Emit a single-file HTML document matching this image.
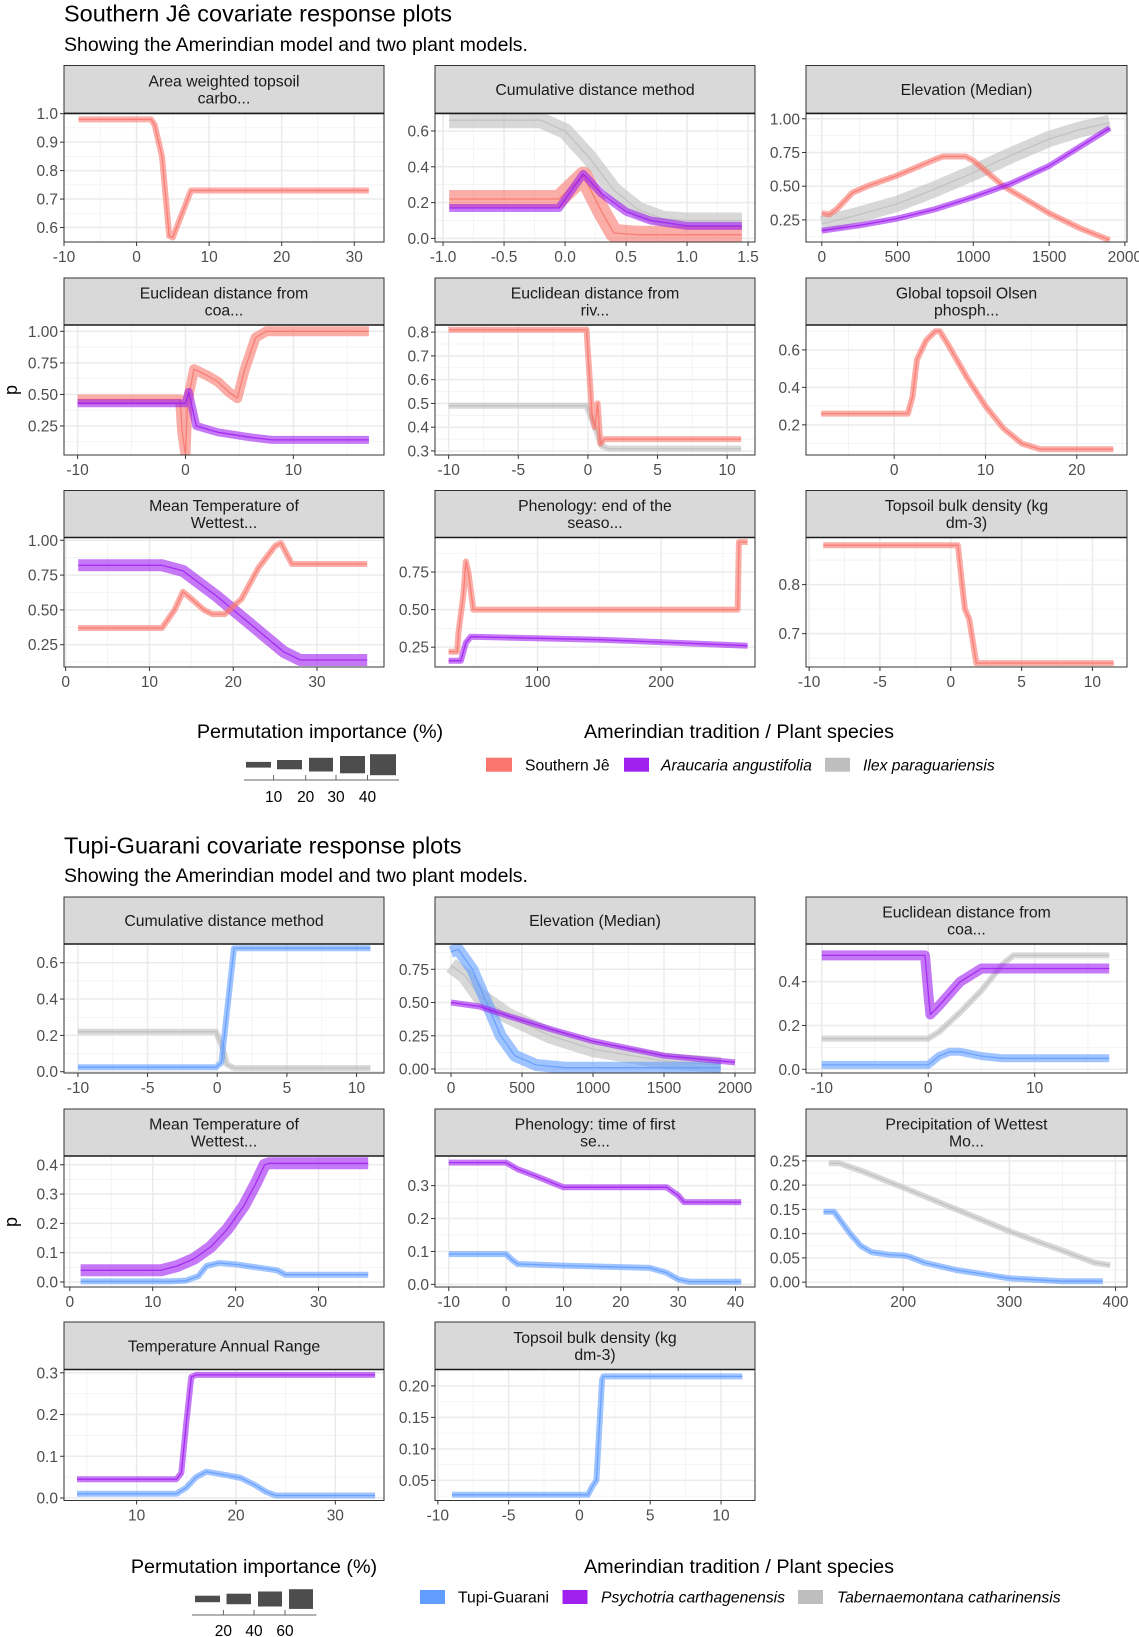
<!DOCTYPE html>
<html><head><meta charset="utf-8">
<style>
html,body{margin:0;padding:0;background:#fff;}
svg{display:block;font-family:"Liberation Sans",sans-serif;}
</style></head>
<body>
<svg id="fig" width="1139" height="1637" viewBox="0 0 1139 1637" xmlns="http://www.w3.org/2000/svg">
<text x="64" y="21.5" font-size="23.5" fill="#000">Southern Jê covariate response plots</text>
<text x="64" y="51" font-size="19.5" fill="#000">Showing the Amerindian model and two plant models.</text>
<text x="64" y="853.5" font-size="23.5" fill="#000">Tupi-Guarani covariate response plots</text>
<text x="64" y="882" font-size="19.5" fill="#000">Showing the Amerindian model and two plant models.</text>
<text x="0" y="0" font-size="18" transform="translate(17,390) rotate(-90)" text-anchor="middle">p</text>
<text x="0" y="0" font-size="18" transform="translate(17,1222) rotate(-90)" text-anchor="middle">p</text>

<g>
<text x="320" y="738" font-size="19.8" text-anchor="middle">Permutation importance (%)</text>
<rect x="246" y="761.9" width="25" height="5.7" fill="#4d4d4d"/>
<rect x="277" y="760" width="25" height="9.3" fill="#4d4d4d"/>
<rect x="309" y="757.8" width="24" height="13.7" fill="#4d4d4d"/>
<rect x="340" y="756" width="25" height="17.3" fill="#4d4d4d"/>
<rect x="370" y="754.2" width="26" height="21" fill="#4d4d4d"/>
<line x1="244" y1="780" x2="399" y2="780" stroke="#666" stroke-width="1"/>
<line x1="273.6" y1="775" x2="273.6" y2="780" stroke="#666"/><line x1="305.7" y1="775" x2="305.7" y2="780" stroke="#666"/><line x1="336" y1="775" x2="336" y2="780" stroke="#666"/><line x1="367.5" y1="775" x2="367.5" y2="780" stroke="#666"/>
<g font-size="15.5" text-anchor="middle" fill="#000"><text x="273.6" y="802">10</text><text x="305.7" y="802">20</text><text x="336" y="802">30</text><text x="367.5" y="802">40</text></g>
</g>
<g>
<text x="739" y="738" font-size="19.8" text-anchor="middle">Amerindian tradition / Plant species</text>
<rect x="486" y="757.7" width="26" height="14" fill="#F8766D"/>
<text x="525" y="770.5" font-size="15.7">Southern Jê</text>
<rect x="624" y="757.7" width="25" height="14" fill="#A020F0"/>
<text x="661" y="770.5" font-size="15.7" font-style="italic">Araucaria angustifolia</text>
<rect x="825" y="757.7" width="25" height="14" fill="#BEBEBE"/>
<text x="863" y="770.5" font-size="15.7" font-style="italic">Ilex paraguariensis</text>
</g>

<g>
<text x="254" y="1573" font-size="19.8" text-anchor="middle">Permutation importance (%)</text>
<rect x="195" y="1595.7" width="25" height="6.5" fill="#4d4d4d"/>
<rect x="226.5" y="1593.7" width="24.5" height="10.5" fill="#4d4d4d"/>
<rect x="258" y="1591.5" width="24" height="15" fill="#4d4d4d"/>
<rect x="289" y="1589.2" width="24" height="19.7" fill="#4d4d4d"/>
<line x1="192" y1="1615" x2="316.5" y2="1615" stroke="#666"/>
<line x1="223.4" y1="1610" x2="223.4" y2="1615" stroke="#666"/><line x1="254" y1="1610" x2="254" y2="1615" stroke="#666"/><line x1="285" y1="1610" x2="285" y2="1615" stroke="#666"/>
<g font-size="15.5" text-anchor="middle"><text x="223.4" y="1636">20</text><text x="254" y="1636">40</text><text x="285" y="1636">60</text></g>
</g>
<g>
<text x="739" y="1573" font-size="19.8" text-anchor="middle">Amerindian tradition / Plant species</text>
<rect x="420" y="1590" width="25" height="14" fill="#619CFF"/>
<text x="458" y="1602.5" font-size="15.7">Tupi-Guarani</text>
<rect x="562.5" y="1590" width="25" height="14" fill="#A020F0"/>
<text x="601" y="1602.5" font-size="15.7" font-style="italic">Psychotria carthagenensis</text>
<rect x="798" y="1590" width="25" height="14" fill="#BEBEBE"/>
<text x="837" y="1602.5" font-size="15.7" font-style="italic">Tabernaemontana catharinensis</text>
</g>
</svg>
<script>
// ---- data arrays ----
const A1_xt=[-10,0,10,20,30]; const A1_yt=[0.6,0.7,0.8,0.9,1.0]; const A1_yl=["0.6","0.7","0.8","0.9","1.0"];
const A1_red_x=[-8,2,2.5,3.5,4.5,5,7.5,32]; const A1_red_y=[0.98,0.98,0.96,0.85,0.57,0.565,0.73,0.73];

const A2_xt=[-1,-0.5,0,0.5,1,1.5]; const A2_xl=["-1.0","-0.5","0.0","0.5","1.0","1.5"]; const A2_yt=[0,0.2,0.4,0.6]; const A2_yl=["0.0","0.2","0.4","0.6"];
const A2_grey_x=[-0.95,-0.2,0,0.2,0.4,0.6,0.8,1.0,1.45]; const A2_grey_y=[0.66,0.66,0.6,0.45,0.27,0.16,0.11,0.1,0.1];
const A2_red_x=[-0.95,-0.05,0.15,0.3,0.4,0.6,1.45]; const A2_red_y=[0.22,0.22,0.35,0.15,0.03,0.02,0.02];
const A2_purple_x=[-0.95,-0.05,0.15,0.3,0.5,0.7,1.0,1.45]; const A2_purple_y=[0.17,0.17,0.36,0.25,0.15,0.1,0.07,0.07];

const A3_xt=[0,500,1000,1500,2000]; const A3_yt=[0.25,0.5,0.75,1.0]; const A3_yl=["0.25","0.50","0.75","1.00"];
const A3_grey_x=[0,250,500,750,1000,1250,1500,1700,1900]; const A3_grey_y=[0.22,0.29,0.37,0.48,0.6,0.73,0.85,0.92,0.97];
const A3_red_x=[0,50,100,200,300,500,750,800,950,1000,1200,1500,1700,1900]; const A3_red_y=[0.3,0.29,0.33,0.45,0.5,0.58,0.7,0.72,0.72,0.69,0.5,0.3,0.19,0.1];
const A3_purple_x=[0,250,500,750,1000,1250,1500,1700,1900]; const A3_purple_y=[0.17,0.21,0.26,0.33,0.42,0.52,0.65,0.79,0.93];

const B1_xt=[-10,0,10]; const B1_yt=[0.25,0.5,0.75,1.0]; const B1_yl=["0.25","0.50","0.75","1.00"];
const B1_red_x=[-10,-0.5,-0.3,0,0.2,0.8,2,3,4,4.8,5.5,6.5,7.5,17]; const B1_red_y=[0.46,0.46,0.2,0.02,0.45,0.7,0.65,0.6,0.52,0.47,0.7,0.95,1.0,1.0];
const B1_purple_x=[-10,0,0.3,1,3,6,8,17]; const B1_purple_y=[0.43,0.43,0.52,0.25,0.2,0.16,0.14,0.14];

const B2_xt=[-10,-5,0,5,10]; const B2_yt=[0.3,0.4,0.5,0.6,0.7,0.8]; const B2_yl=["0.3","0.4","0.5","0.6","0.7","0.8"];
const B2_grey_x=[-10,-0.1,0.5,1,1.5,11]; const B2_grey_y=[0.49,0.49,0.4,0.32,0.31,0.31];
const B2_red_x=[-10,-0.1,0.3,0.5,0.7,0.9,1.2,11]; const B2_red_y=[0.81,0.81,0.45,0.4,0.5,0.33,0.35,0.35];

const B3_xt=[0,10,20]; const B3_yt=[0.2,0.4,0.6]; const B3_yl=["0.2","0.4","0.6"];
const B3_red_x=[-8,1.5,2,2.5,3.5,4.5,5,6,8,10,12,14,16,24]; const B3_red_y=[0.26,0.26,0.35,0.55,0.65,0.7,0.7,0.62,0.45,0.3,0.18,0.1,0.07,0.07];

const C1_xt=[0,10,20,30]; const C1_yt=[0.25,0.5,0.75,1.0]; const C1_yl=["0.25","0.50","0.75","1.00"];
const C1_red_x=[1.5,11.5,13,14,15,16.5,17.5,19,21,23,25,25.7,27,36]; const C1_red_y=[0.37,0.37,0.5,0.63,0.58,0.5,0.47,0.47,0.58,0.8,0.96,0.98,0.83,0.83];
const C1_purple_x=[1.5,11.5,14,18,22,26,28,36]; const C1_purple_y=[0.82,0.82,0.78,0.6,0.4,0.2,0.14,0.14];

const C2_xt=[100,200]; const C2_yt=[0.25,0.5,0.75]; const C2_yl=["0.25","0.50","0.75"];
const C2_red_x=[28,35,36,40,42,44,48,262,263,270]; const C2_red_y=[0.22,0.22,0.35,0.6,0.82,0.75,0.5,0.5,0.95,0.95];
const C2_purple_x=[28,38,42,46,150,270]; const C2_purple_y=[0.16,0.16,0.28,0.32,0.3,0.26];

const C3_xt=[-10,-5,0,5,10]; const C3_yt=[0.7,0.8]; const C3_yl=["0.7","0.8"];
const C3_red_x=[-9,0.5,0.8,1,1.3,1.8,11.5]; const C3_red_y=[0.88,0.88,0.8,0.75,0.73,0.64,0.64];

const D1_xt=[-10,-5,0,5,10]; const D1_yt=[0,0.2,0.4,0.6]; const D1_yl=["0.0","0.2","0.4","0.6"];
const D1_grey_x=[-10,-0.1,0.3,0.7,1.2,11]; const D1_grey_y=[0.22,0.22,0.15,0.04,0.02,0.02];
const D1_blue_x=[-10,-0.1,0.3,0.8,1.2,11]; const D1_blue_y=[0.025,0.025,0.05,0.4,0.68,0.68];

const D2_xt=[0,500,1000,1500,2000]; const D2_yt=[0,0.25,0.5,0.75]; const D2_yl=["0.00","0.25","0.50","0.75"];
const D2_grey_x=[0,100,200,400,700,1000,1500,1900]; const D2_grey_y=[0.78,0.7,0.55,0.4,0.25,0.15,0.06,0.03];
const D2_blue_x=[0,50,150,250,350,450,600,800,1900]; const D2_blue_y=[0.88,0.9,0.75,0.5,0.25,0.1,0.03,0.01,0.01];
const D2_purple_x=[0,200,400,700,1000,1500,2000]; const D2_purple_y=[0.5,0.47,0.4,0.3,0.21,0.1,0.05];

const D3_xt=[-10,0,10]; const D3_yt=[0,0.2,0.4]; const D3_yl=["0.0","0.2","0.4"];
const D3_grey_x=[-10,0,1,3,5,7,8,17]; const D3_grey_y=[0.14,0.14,0.17,0.26,0.36,0.48,0.52,0.52];
const D3_blue_x=[-10,0,1,2,3,5,7,17]; const D3_blue_y=[0.02,0.02,0.06,0.08,0.08,0.06,0.05,0.05];
const D3_purple_x=[-10,-0.3,0,0.2,1,3,5,17]; const D3_purple_y=[0.52,0.52,0.35,0.25,0.29,0.4,0.46,0.46];

const E1_xt=[0,10,20,30]; const E1_yt=[0,0.1,0.2,0.3,0.4]; const E1_yl=["0.0","0.1","0.2","0.3","0.4"];
const E1_blue_x=[1.3,12,14,15.5,16.5,18,20,25,26,36]; const E1_blue_y=[0.002,0.002,0.005,0.02,0.055,0.065,0.06,0.04,0.025,0.025];
const E1_purple_x=[1.3,11,13,15,17,19,21,22.5,23.5,24,36]; const E1_purple_y=[0.04,0.04,0.055,0.08,0.12,0.18,0.26,0.34,0.4,0.405,0.405];

const E2_xt=[-10,0,10,20,30,40]; const E2_yt=[0,0.1,0.2,0.3]; const E2_yl=["0.0","0.1","0.2","0.3"];
const E2_blue_x=[-10,0,1,2,10,25,28,30,32,41]; const E2_blue_y=[0.092,0.092,0.075,0.062,0.057,0.05,0.035,0.015,0.008,0.008];
const E2_purple_x=[-10,0,2,5,10,28,30,31,41]; const E2_purple_y=[0.37,0.37,0.35,0.33,0.295,0.295,0.27,0.25,0.25];

const E3_xt=[200,300,400]; const E3_yt=[0,0.05,0.1,0.15,0.2,0.25]; const E3_yl=["0.00","0.05","0.10","0.15","0.20","0.25"];
const E3_grey_x=[130,140,160,200,250,300,350,380,395]; const E3_grey_y=[0.245,0.245,0.23,0.195,0.15,0.105,0.065,0.04,0.035];
const E3_blue_x=[125,135,140,150,160,170,185,200,205,220,250,300,350,388]; const E3_blue_y=[0.145,0.145,0.13,0.1,0.075,0.062,0.057,0.055,0.053,0.04,0.025,0.008,0.002,0.002];

const F1_xt=[10,20,30]; const F1_yt=[0,0.1,0.2,0.3]; const F1_yl=["0.0","0.1","0.2","0.3"];
const F1_blue_x=[4,14,15,16,17,19,20.5,22,23,24,34]; const F1_blue_y=[0.01,0.01,0.025,0.05,0.063,0.055,0.048,0.03,0.015,0.006,0.006];
const F1_purple_x=[4,14,14.5,15,15.5,16,34]; const F1_purple_y=[0.045,0.045,0.06,0.18,0.29,0.295,0.295];

const F2_xt=[-10,-5,0,5,10]; const F2_yt=[0.05,0.1,0.15,0.2]; const F2_yl=["0.05","0.10","0.15","0.20"];
const F2_blue_x=[-9,0.6,0.9,1.2,1.4,1.6,1.7,11.5]; const F2_blue_y=[0.027,0.027,0.04,0.05,0.13,0.21,0.215,0.215];

// ---- layout ----
const RED="#F8766D",PUR="#A020F0",GRY="#BEBEBE",BLU="#619CFF";
const COLS=[[64,384],[435,755],[806,1127]];
const ROWS=[[65.5,113.4,242],[278,325,455],[490.5,537.5,667],[897,944,1073],[1109,1156,1287],[1322,1369.5,1500.5]];
const panels=[
 {id:"a1",t:["Area weighted topsoil","carbo..."],c:0,r:0,xd:[-10,34.1],yd:[0.549,1.001],xt:A1_xt,yt:A1_yt,yl:A1_yl,s:[[RED,A1_red_x,A1_red_y,3]]},
 {id:"a2",t:["Cumulative distance method"],c:1,r:0,xd:[-1.066,1.557],yd:[-0.02,0.698],xt:A2_xt,xl:A2_xl,yt:A2_yt,yl:A2_yl,s:[[GRY,A2_grey_x,A2_grey_y,8],[RED,A2_red_x,A2_red_y,9],[PUR,A2_purple_x,A2_purple_y,4]]},
 {id:"a3",t:["Elevation (Median)"],c:2,r:0,xd:[-104,2014],yd:[0.086,1.04],xt:A3_xt,yt:A3_yt,yl:A3_yl,s:[[GRY,A3_grey_x,A3_grey_y,8],[RED,A3_red_x,A3_red_y,3],[PUR,A3_purple_x,A3_purple_y,3]]},
 {id:"b1",t:["Euclidean distance from","coa..."],c:0,r:1,xd:[-11.26,18.4],yd:[0.02,1.05],xt:B1_xt,yt:B1_yt,yl:B1_yl,s:[[RED,B1_red_x,B1_red_y,5],[PUR,B1_purple_x,B1_purple_y,4]]},
 {id:"b2",t:["Euclidean distance from","riv..."],c:1,r:1,xd:[-10.98,12.0],yd:[0.283,0.83],xt:B2_xt,yt:B2_yt,yl:B2_yl,s:[[GRY,B2_grey_x,B2_grey_y,3],[RED,B2_red_x,B2_red_y,3]]},
 {id:"b3",t:["Global topsoil Olsen","phosph..."],c:2,r:1,xd:[-9.66,25.5],yd:[0.039,0.733],xt:B3_xt,yt:B3_yt,yl:B3_yl,s:[[RED,B3_red_x,B3_red_y,3]]},
 {id:"c1",t:["Mean Temperature of","Wettest..."],c:0,r:2,xd:[-0.2,38],yd:[0.09,1.02],xt:C1_xt,yt:C1_yt,yl:C1_yl,s:[[PUR,C1_purple_x,C1_purple_y,6],[RED,C1_red_x,C1_red_y,3]]},
 {id:"c2",t:["Phenology: end of the","seaso..."],c:1,r:2,xd:[17,276],yd:[0.118,0.98],xt:C2_xt,yt:C2_yt,yl:C2_yl,s:[[RED,C2_red_x,C2_red_y,3],[PUR,C2_purple_x,C2_purple_y,3]]},
 {id:"c3",t:["Topsoil bulk density (kg","dm-3)"],c:2,r:2,xd:[-10.22,12.44],yd:[0.632,0.896],xt:C3_xt,yt:C3_yt,yl:C3_yl,s:[[RED,C3_red_x,C3_red_y,3]]},
 {id:"d1",t:["Cumulative distance method"],c:0,r:3,xd:[-11,11.97],yd:[-0.007,0.703],xt:D1_xt,yt:D1_yt,yl:D1_yl,s:[[GRY,D1_grey_x,D1_grey_y,3],[BLU,D1_blue_x,D1_blue_y,3]]},
 {id:"d2",t:["Elevation (Median)"],c:1,r:3,xd:[-113,2141],yd:[-0.03,0.94],xt:D2_xt,yt:D2_yt,yl:D2_yl,s:[[GRY,D2_grey_x,D2_grey_y,8],[BLU,D2_blue_x,D2_blue_y,6],[PUR,D2_purple_x,D2_purple_y,3]]},
 {id:"d3",t:["Euclidean distance from","coa..."],c:2,r:3,xd:[-11.48,18.67],yd:[-0.017,0.572],xt:D3_xt,yt:D3_yt,yl:D3_yl,s:[[GRY,D3_grey_x,D3_grey_y,3],[BLU,D3_blue_x,D3_blue_y,4],[PUR,D3_purple_x,D3_purple_y,5]]},
 {id:"e1",t:["Mean Temperature of","Wettest..."],c:0,r:4,xd:[-0.7,37.9],yd:[-0.017,0.43],xt:E1_xt,yt:E1_yt,yl:E1_yl,s:[[BLU,E1_blue_x,E1_blue_y,3],[PUR,E1_purple_x,E1_purple_y,6]]},
 {id:"e2",t:["Phenology: time of first","se..."],c:1,r:4,xd:[-12.4,43.4],yd:[-0.008,0.39],xt:E2_xt,yt:E2_yt,yl:E2_yl,s:[[BLU,E2_blue_x,E2_blue_y,3],[PUR,E2_purple_x,E2_purple_y,3]]},
 {id:"e3",t:["Precipitation of Wettest","Mo..."],c:2,r:4,xd:[108.5,410.8],yd:[-0.01,0.26],xt:E3_xt,yt:E3_yt,yl:E3_yl,s:[[GRY,E3_grey_x,E3_grey_y,3],[BLU,E3_blue_x,E3_blue_y,3]]},
 {id:"f1",t:["Temperature Annual Range"],c:0,r:5,xd:[2.69,34.9],yd:[-0.006,0.308],xt:F1_xt,yt:F1_yt,yl:F1_yl,s:[[BLU,F1_blue_x,F1_blue_y,3],[PUR,F1_purple_x,F1_purple_y,3]]},
 {id:"f2",t:["Topsoil bulk density (kg","dm-3)"],c:1,r:5,xd:[-10.2,12.4],yd:[0.018,0.226],xt:F2_xt,yt:F2_yt,yl:F2_yl,s:[[BLU,F2_blue_x,F2_blue_y,3]]}
];
const NS="http://www.w3.org/2000/svg";
const svg=document.getElementById("fig");
function mk(tag,attrs,parent){const e=document.createElementNS(NS,tag);for(const k in attrs)e.setAttribute(k,attrs[k]);parent.appendChild(e);return e;}
function minors(t,d){const out=[];if(t.length<2)return out;const step=t[1]-t[0];
 for(let v=t[0]-step/2;v<=d[1];v+=step){if(v>=d[0])out.push(v);} return out;}
panels.forEach(p=>{
 const [x0,x1]=COLS[p.c];const [st,y0,y1]=ROWS[p.r];
 const sx=v=>x0+(v-p.xd[0])/(p.xd[1]-p.xd[0])*(x1-x0);
 const sy=v=>y1-(v-p.yd[0])/(p.yd[1]-p.yd[0])*(y1-y0);
 const g=mk("g",{},svg);
 
 
 mk("rect",{x:x0,y:y0,width:x1-x0,height:y1-y0,fill:"#fff"},g);
 const cp=mk("clipPath",{id:"cp"+p.id},g);mk("rect",{x:x0,y:y0,width:x1-x0,height:y1-y0},cp);
 minors(p.xt,p.xd).forEach(v=>mk("line",{x1:sx(v),x2:sx(v),y1:y0,y2:y1,stroke:"#F2F2F2","stroke-width":0.8},g));
 minors(p.yt,p.yd).forEach(v=>mk("line",{x1:x0,x2:x1,y1:sy(v),y2:sy(v),stroke:"#F2F2F2","stroke-width":0.8},g));
 p.xt.forEach((v,i)=>{const X=sx(v);
  mk("line",{x1:X,x2:X,y1:y0,y2:y1,stroke:"#EBEBEB","stroke-width":1.5},g);
  mk("line",{x1:X,x2:X,y1:y1,y2:y1+4,stroke:"#333","stroke-width":1},g);
  const t=mk("text",{x:X,y:y1+20,"font-size":15.5,"text-anchor":"middle",fill:"#4d4d4d"},g);
  
  
  t.textContent=p.xl?p.xl[i]:String(v);});
 p.yt.forEach((v,i)=>{const Y=sy(v);
  mk("line",{x1:x0,x2:x1,y1:Y,y2:Y,stroke:"#EBEBEB","stroke-width":1.5},g);
  mk("line",{x1:x0-4,x2:x0,y1:Y,y2:Y,stroke:"#333","stroke-width":1},g);
  const t=mk("text",{x:x0-6,y:Y+5.5,"font-size":15.5,"text-anchor":"end",fill:"#4d4d4d"},g);
  
  
  t.textContent=p.yl[i];});
 const sg=mk("g",{"clip-path":"url(#cp"+p.id+")"},g);
 p.s.forEach(s=>{const [col,xs,ys,hw]=s;
  const d=xs.map((x,i)=>(i?"L":"M")+sx(x).toFixed(1)+","+sy(ys[i]).toFixed(1)).join("");
  const band=mk("path",{d:d,fill:"none",stroke:col,"stroke-width":hw*2,"stroke-opacity":0.6,"stroke-linejoin":"round"},sg);
  
  
  const ln=mk("path",{d:d,fill:"none",stroke:col,"stroke-width":1.3,"stroke-opacity":0.85,"stroke-linejoin":"round"},sg);
  
  });
 mk("rect",{x:x0,y:y0,width:x1-x0,height:y1-y0,fill:"none",stroke:"#333","stroke-width":1},g);
 const strip=mk("rect",{x:x0,y:st,width:x1-x0,height:y0-st,fill:"#D9D9D9",stroke:"#333","stroke-width":1},g);
 
 
 mk("line",{x1:x0,x2:x1,y1:y0,y2:y0,stroke:"#1a1a1a","stroke-width":1.6},g);
 const cx=(x0+x1)/2,cy=(st+y0)/2;
 p.t.forEach((ln,i)=>{const yy=p.t.length===1?cy+5.5:cy-3+i*17;
  const t=mk("text",{x:cx,y:yy,"font-size":15.8,"text-anchor":"middle",fill:"#1a1a1a"},g);
  
  
  t.textContent=ln;});
});
</script>
</body></html>
